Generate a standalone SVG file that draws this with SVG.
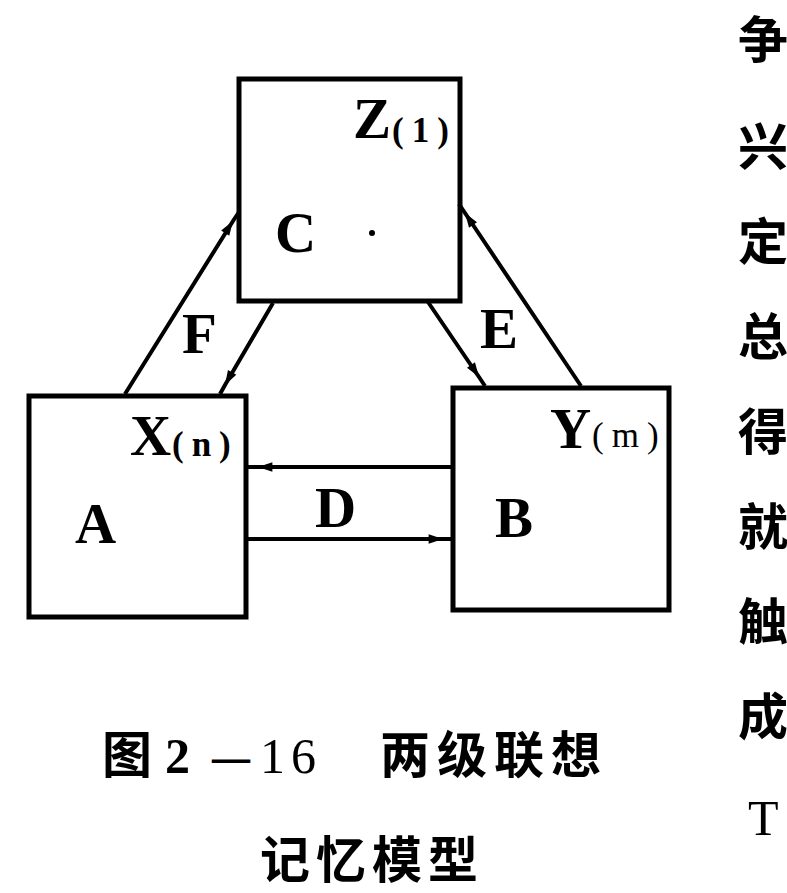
<svg xmlns="http://www.w3.org/2000/svg" width="787" height="893" viewBox="0 0 787 893">
<style>
.box{fill:none;stroke:#000;stroke-width:5}
.ln{fill:none;stroke:#000;stroke-width:4;marker-mid:url(#ah)}
.lbl{font-family:"Liberation Serif",serif;font-weight:bold;font-size:57px;fill:#000}
.sub{font-family:"Liberation Serif",serif;font-size:35px;fill:#000;letter-spacing:8px}
.cjk{font-family:"Noto Sans CJK SC","Noto Sans CJK JP",sans-serif;font-weight:bold;font-size:50px;fill:#000}
.num{font-family:"Liberation Serif",serif;font-size:50px;fill:#000}
</style>
<defs>
<marker id="ah" viewBox="0 0 12 10" refX="12" refY="5" markerWidth="18" markerHeight="12" markerUnits="userSpaceOnUse" orient="auto">
<path d="M0,1 L12,5 L0,9 Z" fill="#000"/>
</marker>
</defs>
<rect width="787" height="893" fill="#fff"/>

<g id="connectors">
<path class="ln" d="M125,394 L233,221 L239,212"/>
<path class="ln" d="M273,303 L225,385 L220,394"/>
<path class="ln" d="M428,302 L479,377 L485,386"/>
<path class="ln" d="M581,386 L465,213 L459,204"/>
<path class="ln" d="M451,467 L258,467 L247,467"/>
<path class="ln" d="M247,539 L443,539 L452,539"/>
<text class="lbl" x="182" y="353">F</text>
<text class="lbl" x="480" y="348">E</text>
<text class="lbl" x="315" y="527">D</text>
</g>

<g id="nodeC">
<rect class="box" x="239" y="79" width="221" height="222"/>
<text class="lbl" x="353" y="138">Z</text>
<text class="sub" x="392" y="142" font-weight="bold">(1)</text>
<text class="lbl" x="275" y="252">C</text>
<circle cx="372" cy="233" r="3" fill="#000"/>
</g>

<g id="nodeA">
<rect class="box" x="29" y="396" width="217" height="221"/>
<text class="lbl" x="130" y="455">X</text>
<text class="sub" x="172" y="456" font-weight="bold">(n)</text>
<text class="lbl" x="75" y="543">A</text>
</g>

<g id="nodeB">
<rect class="box" x="453" y="388" width="216" height="222"/>
<text class="lbl" x="550" y="448">Y</text>
<text class="sub" x="592" y="447">(m)</text>
<text class="lbl" x="495" y="537">B</text>
</g>

<g id="caption">
<text class="cjk" x="102" y="773">图</text>
<text class="num" x="165" y="773" font-weight="bold">2</text>
<text class="num" x="212" y="773" font-weight="bold" textLength="38" lengthAdjust="spacingAndGlyphs">—</text>
<text class="num" x="260" y="773" letter-spacing="6">16</text>
<text class="cjk" x="380" y="773" letter-spacing="7">两级联想</text>
<text class="cjk" x="260" y="878" letter-spacing="6">记忆模型</text>
</g>

<g id="margin-text">
<text class="cjk" x="738" y="58">争</text>
<text class="cjk" x="738" y="165">兴</text>
<text class="cjk" x="738" y="260">定</text>
<text class="cjk" x="738" y="355">总</text>
<text class="cjk" x="738" y="450">得</text>
<text class="cjk" x="738" y="545">就</text>
<text class="cjk" x="738" y="640">触</text>
<text class="cjk" x="738" y="735">成</text>
<text class="num" x="748" y="835">T</text>
</g>
</svg>
